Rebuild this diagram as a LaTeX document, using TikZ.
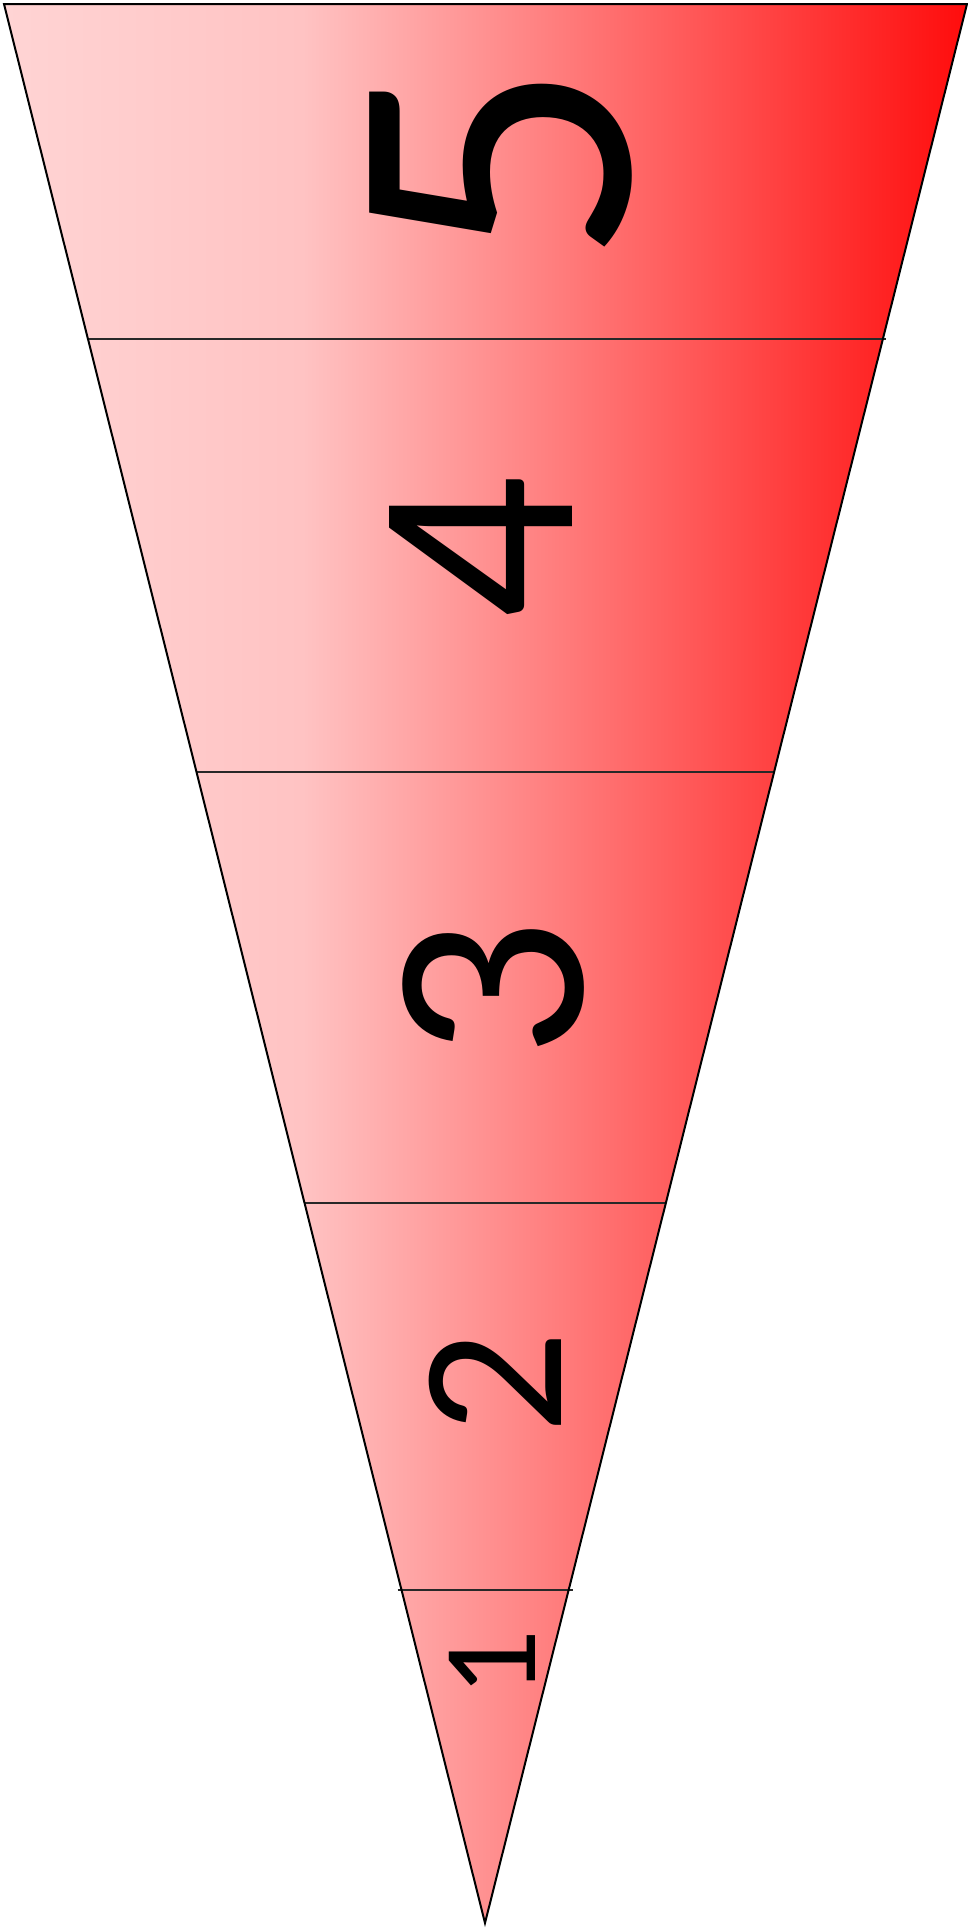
\documentclass[tikz,border=0pt]{standalone}
\usepackage{fontspec}
\setmainfont{Carlito}
\usetikzlibrary{calc}
\definecolor{c0}{RGB}{255,212,212}
\definecolor{c1}{RGB}{255,195,195}
\definecolor{c2}{RGB}{255,12,12}
\definecolor{edgegray}{RGB}{40,40,40}
\pgfdeclarehorizontalshading{funnelshade}{100bp}{color(0bp)=(c0); color(25bp)=(c0); color(40.5bp)=(c1); color(75bp)=(c2); color(100bp)=(c2)}
\tikzset{
  outline/.style={draw=black, line width=2pt, line join=miter},
  divider/.style={draw=edgegray, line width=1.8pt},
  digit/.style={inner sep=0pt, outer sep=0pt, rotate=90, text=black}
}
\begin{document}
\begin{tikzpicture}[x=1pt,y=-1pt]
\useasboundingbox (0,0) rectangle (968,1930);
\coordinate (tl) at (4,4);
\coordinate (tr) at (967,4);
\coordinate (ap) at (485,1923);
\shade[shading=funnelshade] (tl) -- (tr) -- (ap) -- cycle;
% dividers
\coordinate (l4) at ($(tl)!0.17457!(ap)$);
\coordinate (r4) at ($(tr)!0.17457!(ap)$);
\coordinate (l3) at ($(tl)!0.40021!(ap)$);
\coordinate (r3) at ($(tr)!0.40021!(ap)$);
\coordinate (l2) at ($(tl)!0.62480!(ap)$);
\coordinate (r2) at ($(tr)!0.62480!(ap)$);
\coordinate (l1) at ($(tl)!0.82647!(ap)$);
\coordinate (r1) at ($(tr)!0.82647!(ap)$);
\draw[divider, shorten >=-3pt] (l4) -- (r4);
\draw[divider] (l3) -- (r3);
\draw[divider] (l2) -- (r2);
\draw[divider, shorten <=-4pt, shorten >=-4pt] (l1) -- (r1);
\draw[outline] (tl) -- (tr) -- (ap) -- cycle;
% digits
\node[digit, font=\fontsize{405}{405}\selectfont] (d5) at (501,163) {5};
\node[digit, font=\fontsize{285}{285}\selectfont] (d4) at (481,547) {4};
\node[digit, font=\fontsize{277}{277}\selectfont] (d3) at (494,989) {3};
\node[digit, font=\fontsize{204}{204}\selectfont] (d2) at (495,1383) {2};
\node[digit, font=\fontsize{134}{134}\selectfont] (d1) at (492,1664) {1};
\end{tikzpicture}
\end{document}
